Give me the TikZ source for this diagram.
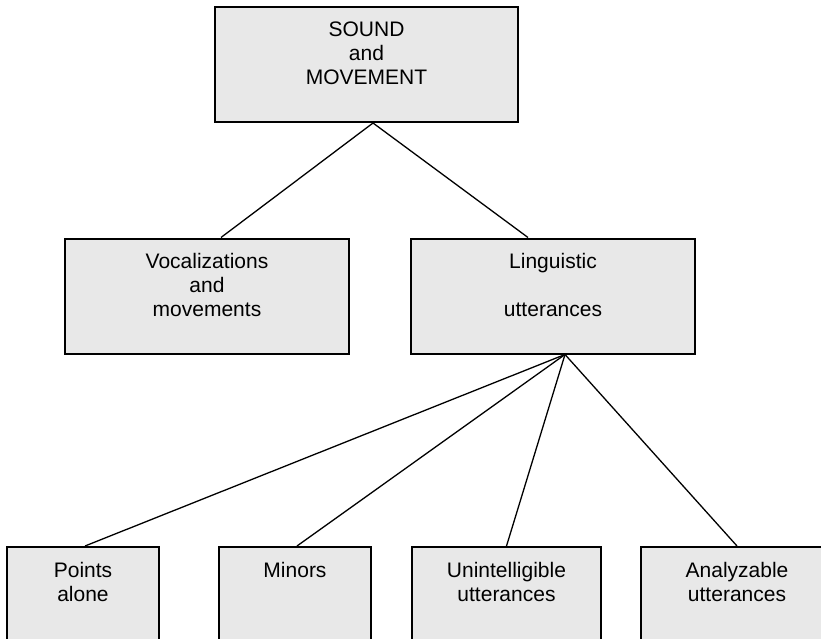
\documentclass[tikz,border=0pt]{standalone}
\usepackage{fontspec}
\setmainfont{Liberation Sans}
\definecolor{boxgray}{HTML}{E8E8E8}
\begin{document}
\begin{tikzpicture}[x=1pt,y=-1pt,line width=1.3pt,
  box/.style={draw,line width=2pt,fill=boxgray,inner sep=0pt,minimum height=115pt},
  txt/.style={align=center,inner sep=0pt,anchor=north,font=\fontsize{21}{23.7}\selectfont}]
\useasboundingbox (0,0) rectangle (821,639);
\clip (0,0) rectangle (821,639);
% boxes
\node[box,minimum width=303pt] (sm) at (366.5,64.5) {};
\node[box,minimum width=284pt] (voc) at (207,296) {};
\node[box,minimum width=284pt] (ling) at (553,296) {};
\node[box,minimum width=152pt] (pts) at (83,604.5) {};
\node[box,minimum width=152pt] (min) at (295,604.5) {};
\node[box,minimum width=189pt] (unint) at (506.5,604.5) {};
\node[box,minimum width=192pt] (ana) at (737,604.5) {};
% texts
\node[txt] (smt) at ([yshift=-15.5pt]sm.north) {SOUND\\and\\MOVEMENT};
\node[txt] (voct) at ([yshift=-15.5pt]voc.north) {Vocalizations\\and\\movements};
\node[txt] (lingt) at ([yshift=-15.5pt]ling.north) {Linguistic\\\mbox{}\\utterances};
\node[txt] (ptst) at ([yshift=-15.5pt]pts.north) {Points\\alone};
\node[txt] (mint) at ([yshift=-15.5pt]min.north) {Minors};
\node[txt] (unintt) at ([yshift=-15.5pt]unint.north) {Unintelligible\\utterances};
\node[txt] (anat) at ([yshift=-15.5pt]ana.north) {Analyzable\\utterances};
% connectors
\draw ([xshift=6.5pt]sm.south)--([xshift=14pt]voc.north);
\draw ([xshift=6.5pt]sm.south)--([xshift=-25pt]ling.north);
\draw ([xshift=12pt]ling.south)--([xshift=2pt]pts.north);
\draw ([xshift=12pt]ling.south)--([xshift=2pt]min.north);
\draw ([xshift=12pt]ling.south)--(unint.north);
\draw ([xshift=12pt]ling.south)--(ana.north);
\end{tikzpicture}
\end{document}
